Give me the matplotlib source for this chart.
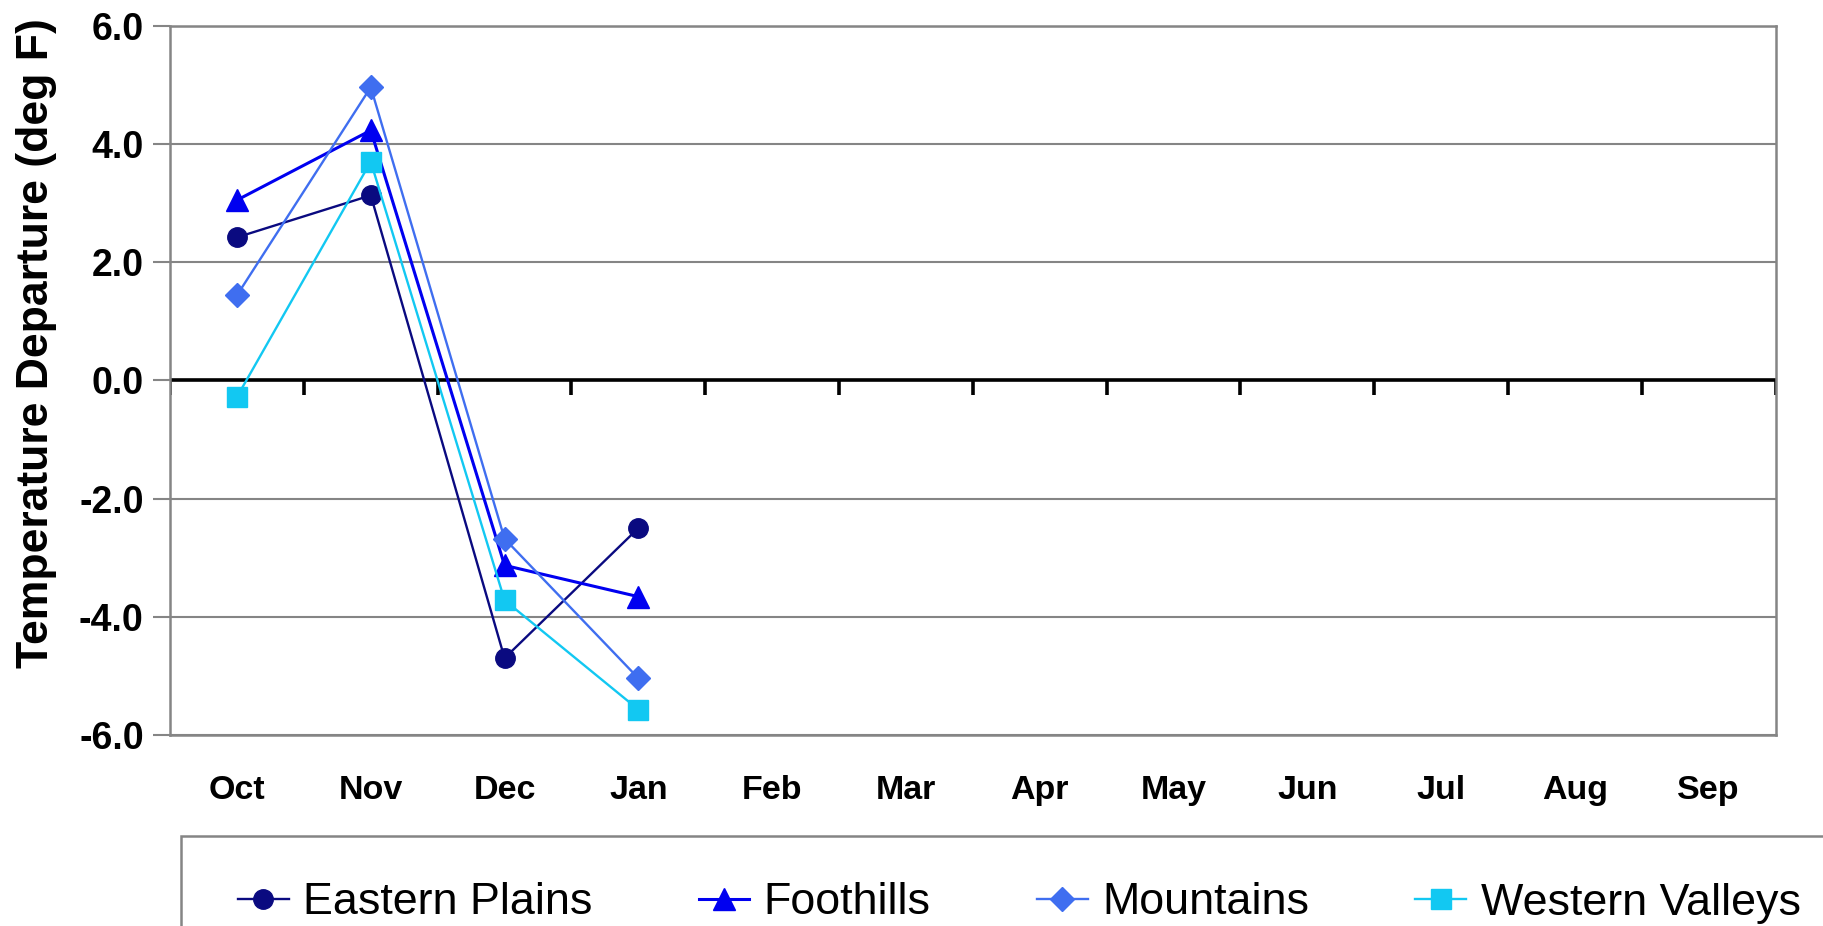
import matplotlib
matplotlib.use("Agg")
import matplotlib.pyplot as plt
from matplotlib.patches import Rectangle

# Font setup, Arial look-alike
plt.rcParams['font.family'] = ['Liberation Sans', 'DejaVu Sans']

months = ["Oct", "Nov", "Dec", "Jan", "Feb", "Mar", "Apr", "May", "Jun", "Jul", "Aug", "Sep"]

# departures (only Oct-Jan reported)
eastern_plains = [2.42, 3.13, -4.70, -2.50]
foothills = [3.05, 4.23, -3.13, -3.66]
mountains = [1.44, 4.96, -2.68, -5.04]
western_valleys = [-0.28, 3.70, -3.72, -5.57]

series_names = ["Eastern Plains", "Foothills", "Mountains", "Western Valleys"]
series_data = [eastern_plains, foothills, mountains, western_valleys]
colors = ["#0a0a80", "#0000f0", "#3f6ef0", "#12c8f2"]
markers = ["o", "^", "D", "s"]
msizes = [14, 16, 12, 14]
lwidths = [1.7, 2.2, 1.7, 1.7]

y_ticks = [-6.0, -4.0, -2.0, 0.0, 2.0, 4.0, 6.0]

fig = plt.figure(figsize=(18.23, 9.26), dpi=100)
ax = fig.add_axes([0.0933, 0.2063, 0.8807, 0.7659])

gray = "#858585"

for name, data, c, m, ms, lw in zip(series_names, series_data, colors, markers, msizes, lwidths):
    ax.plot(range(len(data)), data, color=c, linestyle="-", linewidth=lw,
            marker=m, markersize=ms, markeredgecolor=c, label=name, zorder=3)

ax.set_xlim(-0.5, len(months) - 0.5)
ax.set_ylim(-6, 6)

ax.set_yticks(y_ticks)
ax.set_yticklabels(["%.1f" % v for v in y_ticks], fontsize=27, fontweight="bold")
ax.yaxis.grid(True, color=gray, linewidth=1.5)
ax.set_axisbelow(True)

ax.set_xticks(range(len(months)))
ax.set_xticklabels(months, fontsize=24.5, fontweight="bold")
ax.tick_params(axis="x", length=0, pad=29)
ax.tick_params(axis="y", length=12, width=1.5, color=gray, pad=7)

for s in ["left", "right", "top", "bottom"]:
    ax.spines[s].set_color(gray)
    ax.spines[s].set_linewidth(1.8)

# zero line with category separators
ax.axhline(0, color="black", linewidth=2.6, zorder=2)
bounds = [i - 0.5 for i in range(len(months) + 1)]
ax.vlines(bounds, -0.25, 0, color="black", linewidth=2.6, zorder=2)

fig.text(0.020, 1 - 343 / 926, "Temperature Departure (deg F)", rotation=90,
         ha="center", va="center", fontsize=32, fontweight="bold")

# legend box running off the bottom right of the figure
fig.patches.append(Rectangle((181 / 1823, -0.5), 1.0, 0.5 + (1 - 836 / 926),
                             transform=fig.transFigure, fill=False,
                             edgecolor=gray, linewidth=1.8))
fig.legend(loc="center left", bbox_to_anchor=(238 / 1823, 1 - 903 / 926), ncol=4,
           frameon=False, fontsize=32.3, handlelength=1.13, handletextpad=0.32,
           columnspacing=2.37, borderpad=0, borderaxespad=0)

fig.savefig("out.png", dpi=100)
